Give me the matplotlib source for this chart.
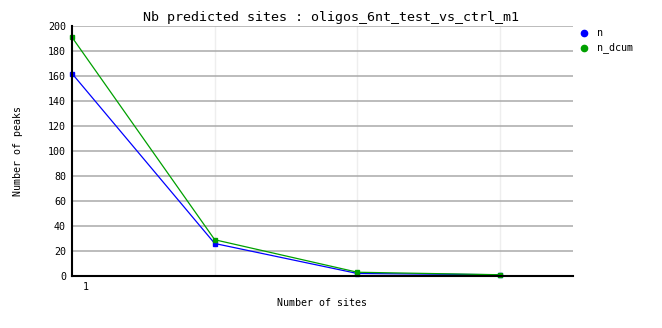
import matplotlib
matplotlib.use("Agg")
import matplotlib.pyplot as plt
from matplotlib.lines import Line2D

sites = [1, 2, 3, 4]
n = [162, 26, 2, 1]
n_dcum = [191, 29, 3, 1]
series_names = ["n", "n_dcum"]
series_colors = ["#0000ff", "#00a000"]
title = "Nb predicted sites : oligos_6nt_test_vs_ctrl_m1"
xlabel = "Number of sites"
ylabel = "Number of peaks"
yticks = list(range(0, 201, 20))

W, H = 662, 328
fig = plt.figure(figsize=(W / 100, H / 100), dpi=100)
ax = fig.add_axes([72 / W, 1 - 276 / H, (573 - 72) / W, (276 - 26) / H])

mono = "DejaVu Sans Mono"
small = 7.2

ax.set_xlim(1, 4.51)
ax.set_ylim(0, 200)
ax.set_yticks(yticks)
ax.set_yticklabels([str(v) for v in yticks], fontsize=small, family=mono)
ax.tick_params(axis="y", length=0, pad=4.3)
ax.set_xticks([1])
ax.set_xticklabels(["1"], fontsize=small, family=mono)
ax.tick_params(axis="x", length=0, pad=4.5)
import matplotlib.transforms as mtransforms
for lbl in ax.get_xticklabels():
    lbl.set_transform(lbl.get_transform() + mtransforms.ScaledTranslation(14 / 100, 0, fig.dpi_scale_trans))

for y in yticks[1:]:
    ax.axhline(y, color="#aaaaaa", lw=1.1, zorder=1)
for x in sites[1:]:
    ax.axvline(x, color="#eeeeee", lw=1.0, zorder=0.5)

for s in ["top", "right"]:
    ax.spines[s].set_visible(False)
for s in ["left", "bottom"]:
    ax.spines[s].set_linewidth(1.5)
    ax.spines[s].set_color("black")
    ax.spines[s].set_zorder(5)

ax.plot(sites, n, color=series_colors[0], lw=0.9, marker="s", ms=3, zorder=3, clip_on=False)
ax.plot(sites, n_dcum, color=series_colors[1], lw=0.9, marker="s", ms=3, zorder=4, clip_on=False)

fig.text(331 / W, 1 - 18 / H, title, ha="center", va="center", fontsize=9.6, family=mono)
fig.text(322 / W, 1 - 303 / H, xlabel, ha="center", va="center", fontsize=small, family=mono)
fig.text(18 / W, 1 - 151 / H, ylabel, ha="center", va="center", rotation=90, fontsize=small, family=mono)

for i, (name, col) in enumerate(zip(series_names, series_colors)):
    yy = 1 - (33 + 15 * i) / H
    fig.add_artist(Line2D([584 / W], [yy], marker="o", ms=4.5, color=col, lw=0))
    fig.text(597 / W, yy, name, ha="left", va="center", fontsize=small, family=mono)

fig.savefig("out.png", dpi=100)
